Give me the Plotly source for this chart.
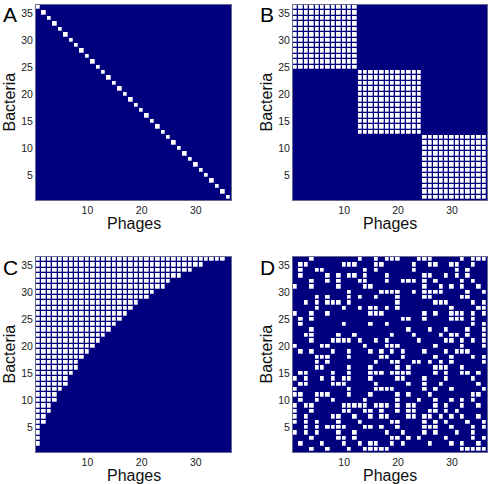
import plotly.graph_objects as go

# ---------------- data ----------------
N = 36
phages = list(range(1, 37))
bacteria = list(range(1, 37))
x_ticks = [10, 20, 30]
y_ticks = [5, 10, 15, 20, 25, 30, 35]
panel_letters = ["A", "B", "C", "D"]

# A: one-to-one: bacteria infected by each phage
one_to_one_bacteria = [36, 35, 34, 33, 32, 31, 30, 29, 28, 27, 26, 25,
                       24, 23, 22, 21, 20, 19, 18, 17, 16, 15, 14, 13,
                       12, 11, 10, 9, 8, 7, 6, 5, 4, 3, 2, 1]

# B: modular: module of each phage / each bacterium
phage_module = [1] * 12 + [2] * 12 + [3] * 12
bacteria_module = [3] * 12 + [2] * 12 + [1] * 12   # bacteria 1..36

# C: nested: lowest infected bacterium for each phage (37 = none)
nested_min_bacteria = [2, 6, 8, 10, 12, 13, 15, 16, 18, 19, 20, 21,
                       22, 23, 24, 25, 26, 27, 28, 29, 29, 30, 31, 31,
                       32, 33, 33, 34, 34, 35, 35, 36, 36, 36, 36, 37]

# D: random: infected phages for each bacterium (listed from bacterium 36 down to 1)
random_rows = [
    [4, 13, 16, 18, 19, 20, 24, 25, 26, 32, 34, 35, 36],
    [2, 3, 10, 11, 12, 16, 17, 23, 26, 27, 30, 31, 34],
    [2, 5, 6, 14, 16, 23, 31, 33],
    [2, 7, 9, 11, 12, 14, 18, 25, 26, 29, 31, 33],
    [4, 7, 9, 13, 14, 18, 21, 22, 23, 25, 27, 32, 34],
    [1, 4, 9, 14, 15, 25, 28, 30, 32, 35],
    [11, 17, 18, 19, 20, 23, 25, 26, 27, 28, 33, 36],
    [5, 7, 11, 13, 16, 20, 25, 26, 32, 33],
    [3, 5, 7, 8, 9, 11, 20, 27, 28, 29, 34, 36],
    [5, 10, 13, 15, 16, 18, 20, 30, 35, 36],
    [1, 4, 7, 15, 16, 17, 25, 27, 30, 31, 32, 34, 36],
    [2, 4, 21, 22, 25, 30, 31, 32, 34],
    [2, 10, 15, 18, 34, 36],
    [4, 22, 26, 29, 33, 36],
    [3, 4, 9, 12, 19, 23, 28, 30, 31, 33, 36],
    [4, 8, 9, 10, 11, 13, 16, 18, 24, 29, 30, 32, 34, 36],
    [1, 6, 7, 14, 18, 19, 20, 27, 32, 36],
    [2, 4, 8, 11, 15, 17, 19, 21, 25, 29, 31, 32, 33],
    [5, 6, 7, 11, 17, 18, 21, 27, 30, 34, 36],
    [5, 7, 16, 19, 20, 23, 24, 26, 28, 30, 36],
    [5, 6, 11, 15, 20, 22, 27, 28, 29, 32],
    [2, 3, 8, 11, 15, 16, 17, 19, 20, 21, 22, 27, 29, 32, 33, 35],
    [1, 3, 6, 8, 10, 11, 15, 20, 21, 25, 29, 34],
    [2, 3, 8, 9, 10, 16, 22, 25, 28, 35],
    [1, 11, 16, 17, 18, 19, 25, 27, 30, 36],
    [1, 2, 5, 6, 7, 11, 15, 20, 22, 26, 34, 35],
    [2, 5, 8, 14, 20, 24, 27, 30, 32, 34],
    [1, 3, 4, 10, 11, 12, 13, 14, 16, 17, 18, 20, 22, 23, 27, 29, 32, 35],
    [1, 4, 10, 11, 14, 15, 17, 20, 22, 23, 26, 27, 29, 31],
    [1, 3, 8, 9, 12, 15, 17, 18, 22, 23, 25, 26, 28, 30, 32, 35],
    [1, 3, 5, 9, 13, 19, 20, 25, 27, 29, 33, 36],
    [3, 5, 7, 8, 9, 10, 14, 15, 17, 20, 25, 26, 27, 30, 34, 36],
    [1, 3, 5, 9, 12, 18, 21, 25, 27, 31, 34],
    [4, 9, 10, 12, 19, 20, 22, 24, 29, 34, 36],
    [2, 6, 10, 13, 15, 16, 19, 21, 26, 30, 32, 35],
    [4, 7, 11, 14, 15, 16, 17, 18, 32, 33, 34, 35, 36],
]

# ---------------- matrices (z[bacterium-1][phage-1]) ----------------
def empty():
    return [[0] * N for _ in range(N)]

zA = empty()
for p, b in zip(phages, one_to_one_bacteria):
    zA[b - 1][p - 1] = 1

zB = empty()
for bi, b in enumerate(bacteria):
    for pi, p in enumerate(phages):
        if bacteria_module[bi] == phage_module[pi]:
            zB[b - 1][p - 1] = 1

zC = empty()
for p, m in zip(phages, nested_min_bacteria):
    for b in bacteria:
        if b >= m:
            zC[b - 1][p - 1] = 1

zD = empty()
for i, row in enumerate(random_rows):
    b = 36 - i
    for p in row:
        zD[b - 1][p - 1] = 1

# ---------------- figure ----------------
W, H = 490, 484
NAVY = "#00007f"
FONT = "Liberation Sans, Arial, Helvetica, sans-serif"

def xp(px):
    return px / W

def yp(py):
    return 1 - py / H

boxes = [(36, 231, 5, 200), (293, 487, 5, 200), (36, 231, 257, 452), (293, 487, 257, 452)]
mats = [zA, zB, zC, zD]

fig = go.Figure()
layout = dict(
    width=W, height=H,
    margin=dict(l=0, r=0, t=0, b=0),
    paper_bgcolor="white",
    plot_bgcolor=NAVY,
    showlegend=False,
    font=dict(family=FONT, color="#111"),
)
annotations = []
for i, (box, z) in enumerate(zip(boxes, mats)):
    x0, x1, y0, y1 = box
    ax = "" if i == 0 else str(i + 1)
    fig.add_trace(go.Heatmap(
        z=z, x=phages, y=bacteria,
        colorscale=[[0, NAVY], [1, "white"]], zmin=0, zmax=1,
        showscale=False, xgap=1.3, ygap=1.3,
        xaxis="x" + ax, yaxis="y" + ax, hoverinfo="skip",
    ))
    layout["xaxis" + ax] = dict(
        domain=[xp(x0), xp(x1)], anchor="y" + ax, range=[0.5, 36.5],
        tickvals=x_ticks, ticks="", showgrid=False, zeroline=False,
        showline=True, mirror=True, linecolor="#6a6a90", linewidth=1,
        tickfont=dict(size=10.5, color="#222", family=FONT),
        fixedrange=True,
    )
    layout["yaxis" + ax] = dict(
        domain=[yp(y1), yp(y0)], anchor="x" + ax, range=[0.5, 36.5],
        tickvals=y_ticks, ticks="", showgrid=False, zeroline=False,
        showline=True, mirror=True, linecolor="#6a6a90", linewidth=1,
        tickfont=dict(size=10.5, color="#222", family=FONT),
        fixedrange=True,
    )
    cx = (x0 + x1) / 2
    cy = (y0 + y1) / 2
    annotations.append(dict(text="Phages", x=xp(cx), y=yp(y1 + 23), xref="paper", yref="paper",
                            showarrow=False, font=dict(size=16, color="#111", family=FONT),
                            xanchor="center", yanchor="middle"))
    annotations.append(dict(text="Bacteria", x=xp(x0 - 27), y=yp(cy), xref="paper", yref="paper",
                            showarrow=False, textangle=-90, font=dict(size=16, color="#111", family=FONT),
                            xanchor="center", yanchor="middle"))
    annotations.append(dict(text=panel_letters[i], x=xp(x0 - 26), y=yp(y0 + 10), xref="paper", yref="paper",
                            showarrow=False, font=dict(size=21, color="#000", family=FONT),
                            xanchor="center", yanchor="middle"))

layout["annotations"] = annotations
fig.update_layout(**layout)
fig.write_html(
    "out.html",
    config={"displayModeBar": False, "staticPlot": True},
    post_script="document.body.style.margin='0';document.body.style.padding='0';",
)
